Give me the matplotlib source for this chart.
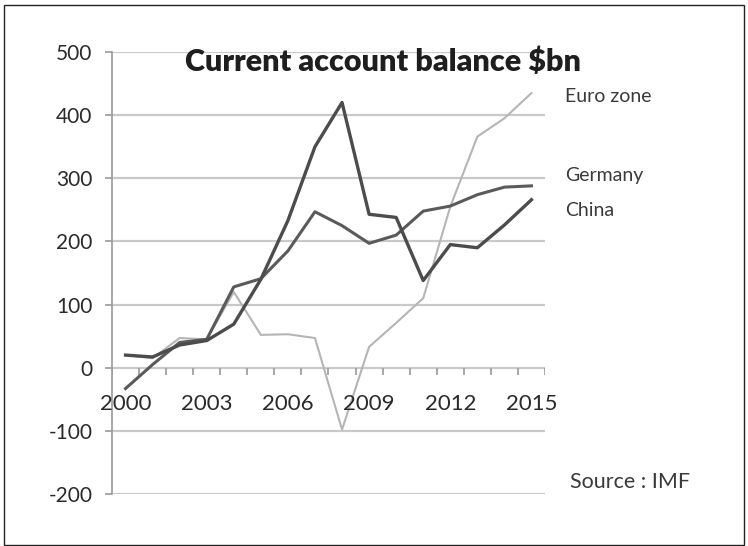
import numpy as np
import matplotlib
matplotlib.use("Agg")
import matplotlib.pyplot as plt
from matplotlib.patches import Rectangle

years = list(range(2000, 2016))
china = [20, 17, 36, 43, 69, 140, 233, 350, 420, 243, 238, 138, 195, 190, 226, 266]
germany = [-33, 5, 40, 45, 128, 141, 185, 247, 225, 197, 210, 248, 256, 274, 286, 288]
euro_zone = [20, 15, 47, 45, 120, 52, 53, 47, -98, 33, 71, 110, 255, 366, 395, 435]
y_ticks = [-200, -100, 0, 100, 200, 300, 400, 500]
label_years = [2000, 2003, 2006, 2009, 2012, 2015]

plt.rcParams["font.family"] = ["Lato", "DejaVu Sans"]

fig = plt.figure(figsize=(7.48, 5.46), dpi=100)
ax = fig.add_axes([112 / 748, 1 - 494 / 546, 433 / 748, 442 / 546])

x = np.arange(len(years))
grid_c = "#c9c9c9"
for v in y_ticks:
    ax.axhline(v, color=grid_c, lw=1.6, zorder=1)

# category axis sits on zero, ticks between categories
ax.vlines(np.arange(len(years) + 1) - 0.5, -12, 0, color="#9a9a9a", lw=1.2, zorder=1)

ax.plot(x, euro_zone, color="#b5b5b5", lw=1.5, zorder=3)
ax.plot(x, germany, color="#5a5a5a", lw=2.2, zorder=4)
ax.plot(x, china, color="#4c4c4c", lw=2.4, zorder=5)

ax.set_xlim(-0.5, len(years) - 0.5)
ax.set_ylim(-200, 500)
ax.set_xticks([])
ax.set_yticks(y_ticks)
ax.set_yticklabels([str(v) for v in y_ticks])
ax.tick_params(axis="y", length=5, width=1.2, color="#9a9a9a", pad=9,
               labelsize=15, labelcolor="#2a2a2a")
for s in ["top", "right", "bottom"]:
    ax.spines[s].set_visible(False)
ax.spines["left"].set_color("#9a9a9a")
ax.spines["left"].set_linewidth(1.2)
ax.patch.set_alpha(0)

for yr in label_years:
    ax.text(years.index(yr), -58, str(yr), ha="center", va="center",
            fontsize=16, color="#2a2a2a")

fig.text(383 / 748, 1 - 62 / 546, "Current account balance $bn", ha="center",
         va="center", fontsize=22, fontweight="heavy", color="#1e1e1e")
fig.text(565 / 748, 1 - 97 / 546, "Euro zone", ha="left", va="center",
         fontsize=14, color="#3a3a3a")
fig.text(565 / 748, 1 - 175 / 546, "Germany", ha="left", va="center",
         fontsize=14, color="#3a3a3a")
fig.text(565 / 748, 1 - 210 / 546, "China", ha="left", va="center",
         fontsize=14, color="#3a3a3a")
fig.text(570 / 748, 1 - 482 / 546, "Source : IMF", ha="left", va="center",
         fontsize=15.5, color="#3a3a3a")

fig.patches.append(Rectangle((4 / 748, 0.002), 740 / 748, 1 - 6 / 546,
                             transform=fig.transFigure, fill=False,
                             edgecolor="#222222", lw=1.0))

fig.savefig("out.png", dpi=100)
